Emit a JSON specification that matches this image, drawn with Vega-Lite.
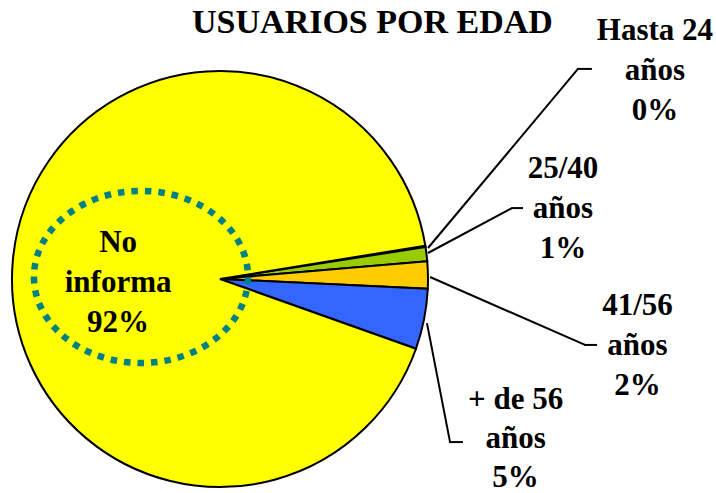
{
  "$schema": "https://vega.github.io/schema/vega-lite/v6.json",
  "width": 416,
  "height": 416,
  "autosize": {"type": "none"},
  "padding": {"left": 12, "top": 71, "right": 288, "bottom": 6},
  "background": "white",
  "config": {
    "view": {"stroke": null},
    "text": {"font": "Liberation Serif", "fontWeight": "bold", "fontSize": 31, "color": "black"}
  },
  "data": {
    "values": [
      {"categoria": "Hasta 24 años", "orden": 1, "valor": 0.1, "etiqueta": "Hasta 24\naños\n0%"},
      {"categoria": "25/40 años", "orden": 2, "valor": 1.1, "etiqueta": "25/40\naños\n1%"},
      {"categoria": "41/56 años", "orden": 3, "valor": 2.1, "etiqueta": "41/56\naños\n2%"},
      {"categoria": "+ de 56 años", "orden": 4, "valor": 4.7, "etiqueta": "+ de 56\naños\n5%"},
      {"categoria": "No informa", "orden": 5, "valor": 92.0, "etiqueta": "No\ninforma\n92%"}
    ]
  },
  "layer": [
    {
      "mark": {"type": "arc", "stroke": "black", "strokeWidth": 2, "strokeJoin": "miter"},
      "encoding": {
        "theta": {"field": "valor", "type": "quantitative", "stack": true, "scale": {"range": [1.410, 7.693]}},
        "order": {"field": "orden", "type": "quantitative"},
        "color": {
          "field": "categoria", "type": "nominal", "legend": null,
          "scale": {
            "domain": ["Hasta 24 años", "25/40 años", "41/56 años", "+ de 56 años", "No informa"],
            "range": ["#FF6600", "#99CC00", "#FFCC00", "#3366FF", "#FFFF00"]
          }
        }
      }
    },
    {
      "transform": [{"filter": "datum.categoria === 'No informa'"}],
      "mark": {"type": "point", "shape": "M-1,0A1,0.804,0,1,0,1,0A1,0.804,0,1,0,-1,0Z", "size": 45796, "filled": false, "stroke": "#008080", "strokeWidth": 6.5, "strokeDash": [6.5, 7], "opacity": 1},
      "encoding": {
        "x": {"datum": -0.380, "type": "quantitative", "scale": {"domain": [-1, 1], "nice": false, "zero": false}, "axis": null},
        "y": {"datum": 0.010, "type": "quantitative", "scale": {"domain": [-1, 1], "nice": false, "zero": false}, "axis": null}
      }
    },
    {
      "transform": [{"filter": "datum.categoria === 'Hasta 24 años'"}],
      "mark": {"type": "rule", "stroke": "black", "strokeWidth": 2},
      "encoding": {
        "x": {"datum": 1.0, "type": "quantitative", "scale": {"domain": [-1, 1], "nice": false, "zero": false}, "axis": null},
        "y": {"datum": 0.149, "type": "quantitative", "scale": {"domain": [-1, 1], "nice": false, "zero": false}, "axis": null},
        "x2": {"datum": 1.721},
        "y2": {"datum": 1.010}
      }
    },
    {
      "transform": [{"filter": "datum.categoria === 'Hasta 24 años'"}],
      "mark": {"type": "rule", "stroke": "black", "strokeWidth": 2},
      "encoding": {
        "x": {"datum": 1.716, "type": "quantitative", "scale": {"domain": [-1, 1], "nice": false, "zero": false}, "axis": null},
        "y": {"datum": 1.010, "type": "quantitative", "scale": {"domain": [-1, 1], "nice": false, "zero": false}, "axis": null},
        "x2": {"datum": 1.788},
        "y2": {"datum": 1.010}
      }
    },
    {
      "transform": [{"filter": "datum.categoria === '25/40 años'"}],
      "mark": {"type": "rule", "stroke": "black", "strokeWidth": 2},
      "encoding": {
        "x": {"datum": 1.0, "type": "quantitative", "scale": {"domain": [-1, 1], "nice": false, "zero": false}, "axis": null},
        "y": {"datum": 0.125, "type": "quantitative", "scale": {"domain": [-1, 1], "nice": false, "zero": false}, "axis": null},
        "x2": {"datum": 1.404},
        "y2": {"datum": 0.341}
      }
    },
    {
      "transform": [{"filter": "datum.categoria === '25/40 años'"}],
      "mark": {"type": "rule", "stroke": "black", "strokeWidth": 2},
      "encoding": {
        "x": {"datum": 1.400, "type": "quantitative", "scale": {"domain": [-1, 1], "nice": false, "zero": false}, "axis": null},
        "y": {"datum": 0.341, "type": "quantitative", "scale": {"domain": [-1, 1], "nice": false, "zero": false}, "axis": null},
        "x2": {"datum": 1.457},
        "y2": {"datum": 0.341}
      }
    },
    {
      "transform": [{"filter": "datum.categoria === '41/56 años'"}],
      "mark": {"type": "rule", "stroke": "black", "strokeWidth": 2},
      "encoding": {
        "x": {"datum": 1.010, "type": "quantitative", "scale": {"domain": [-1, 1], "nice": false, "zero": false}, "axis": null},
        "y": {"datum": 0.0096, "type": "quantitative", "scale": {"domain": [-1, 1], "nice": false, "zero": false}, "axis": null},
        "x2": {"datum": 1.755},
        "y2": {"datum": -0.317}
      }
    },
    {
      "transform": [{"filter": "datum.categoria === '41/56 años'"}],
      "mark": {"type": "rule", "stroke": "black", "strokeWidth": 2},
      "encoding": {
        "x": {"datum": 1.750, "type": "quantitative", "scale": {"domain": [-1, 1], "nice": false, "zero": false}, "axis": null},
        "y": {"datum": -0.317, "type": "quantitative", "scale": {"domain": [-1, 1], "nice": false, "zero": false}, "axis": null},
        "x2": {"datum": 1.813},
        "y2": {"datum": -0.317}
      }
    },
    {
      "transform": [{"filter": "datum.categoria === '+ de 56 años'"}],
      "mark": {"type": "rule", "stroke": "black", "strokeWidth": 2},
      "encoding": {
        "x": {"datum": 0.995, "type": "quantitative", "scale": {"domain": [-1, 1], "nice": false, "zero": false}, "axis": null},
        "y": {"datum": -0.212, "type": "quantitative", "scale": {"domain": [-1, 1], "nice": false, "zero": false}, "axis": null},
        "x2": {"datum": 1.106},
        "y2": {"datum": -0.784}
      }
    },
    {
      "transform": [{"filter": "datum.categoria === '+ de 56 años'"}],
      "mark": {"type": "rule", "stroke": "black", "strokeWidth": 2},
      "encoding": {
        "x": {"datum": 1.101, "type": "quantitative", "scale": {"domain": [-1, 1], "nice": false, "zero": false}, "axis": null},
        "y": {"datum": -0.784, "type": "quantitative", "scale": {"domain": [-1, 1], "nice": false, "zero": false}, "axis": null},
        "x2": {"datum": 1.168},
        "y2": {"datum": -0.784}
      }
    },
    {
      "transform": [{"filter": "datum.categoria === 'Hasta 24 años'"}],
      "mark": {"type": "text", "font": "Liberation Serif", "fontWeight": "bold", "fontSize": 31, "lineBreak": "\n", "lineHeight": 40, "align": "center", "baseline": "alphabetic"},
      "encoding": {
        "text": {"field": "etiqueta", "type": "nominal"},
        "x": {"datum": 2.091, "type": "quantitative", "scale": {"domain": [-1, 1], "nice": false, "zero": false}, "axis": null},
        "y": {"datum": 1.149, "type": "quantitative", "scale": {"domain": [-1, 1], "nice": false, "zero": false}, "axis": null}
      }
    },
    {
      "transform": [{"filter": "datum.categoria === '25/40 años'"}],
      "mark": {"type": "text", "font": "Liberation Serif", "fontWeight": "bold", "fontSize": 31, "lineBreak": "\n", "lineHeight": 40, "align": "center", "baseline": "alphabetic"},
      "encoding": {
        "text": {"field": "etiqueta", "type": "nominal"},
        "x": {"datum": 1.649, "type": "quantitative", "scale": {"domain": [-1, 1], "nice": false, "zero": false}, "axis": null},
        "y": {"datum": 0.486, "type": "quantitative", "scale": {"domain": [-1, 1], "nice": false, "zero": false}, "axis": null}
      }
    },
    {
      "transform": [{"filter": "datum.categoria === '41/56 años'"}],
      "mark": {"type": "text", "font": "Liberation Serif", "fontWeight": "bold", "fontSize": 31, "lineBreak": "\n", "lineHeight": 40, "align": "center", "baseline": "alphabetic"},
      "encoding": {
        "text": {"field": "etiqueta", "type": "nominal"},
        "x": {"datum": 2.007, "type": "quantitative", "scale": {"domain": [-1, 1], "nice": false, "zero": false}, "axis": null},
        "y": {"datum": -0.173, "type": "quantitative", "scale": {"domain": [-1, 1], "nice": false, "zero": false}, "axis": null}
      }
    },
    {
      "transform": [{"filter": "datum.categoria === '+ de 56 años'"}],
      "mark": {"type": "text", "font": "Liberation Serif", "fontWeight": "bold", "fontSize": 31, "lineBreak": "\n", "lineHeight": 39, "align": "center", "baseline": "alphabetic"},
      "encoding": {
        "text": {"field": "etiqueta", "type": "nominal"},
        "x": {"datum": 1.421, "type": "quantitative", "scale": {"domain": [-1, 1], "nice": false, "zero": false}, "axis": null},
        "y": {"datum": -0.625, "type": "quantitative", "scale": {"domain": [-1, 1], "nice": false, "zero": false}, "axis": null}
      }
    },
    {
      "transform": [{"filter": "datum.categoria === 'No informa'"}],
      "mark": {"type": "text", "font": "Liberation Serif", "fontWeight": "bold", "fontSize": 31, "lineBreak": "\n", "lineHeight": 40, "align": "center", "baseline": "alphabetic"},
      "encoding": {
        "text": {"field": "etiqueta", "type": "nominal"},
        "x": {"datum": -0.490, "type": "quantitative", "scale": {"domain": [-1, 1], "nice": false, "zero": false}, "axis": null},
        "y": {"datum": 0.130, "type": "quantitative", "scale": {"domain": [-1, 1], "nice": false, "zero": false}, "axis": null}
      }
    },
    {
      "data": {"values": [{"titulo": "USUARIOS POR EDAD"}]},
      "mark": {"type": "text", "font": "Liberation Serif", "fontWeight": "bold", "fontSize": 34, "align": "center", "baseline": "alphabetic"},
      "encoding": {
        "text": {"field": "titulo", "type": "nominal"},
        "x": {"datum": 0.733, "type": "quantitative", "scale": {"domain": [-1, 1], "nice": false, "zero": false}, "axis": null},
        "y": {"datum": 1.183, "type": "quantitative", "scale": {"domain": [-1, 1], "nice": false, "zero": false}, "axis": null}
      }
    }
  ]
}
